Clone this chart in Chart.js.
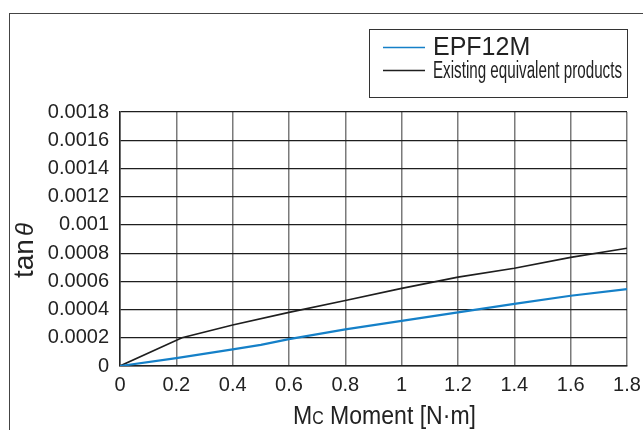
<!DOCTYPE html>
<html>
<head>
<meta charset="utf-8">
<script src="https://cdn.jsdelivr.net/npm/chart.js@4.4.1/dist/chart.umd.min.js"></script>
<style>
  html, body { margin: 0; padding: 0; background: #fff; }
  #wrap { position: relative; width: 643px; height: 430px; overflow: hidden; }
  #frame { position: absolute; left: 9px; top: 13px; width: 700px; height: 500px;
           border-top: 1px solid #444; border-left: 1px solid #444; }
  canvas { position: absolute; left: 0; top: 0; }
</style>
</head>
<body>
<div id="wrap">
  <div id="frame"></div>
  <canvas id="chart" width="643" height="430"></canvas>
</div>
<script>
// values
const epfX = [0, 0.2, 0.4, 0.5, 0.6, 0.8, 1.0, 1.2, 1.4, 1.6, 1.8];
const epfY = [0, 0.000056, 0.000118, 0.00015, 0.00019, 0.00026, 0.00032, 0.00038, 0.00044, 0.000498, 0.000545];

const oldX = [0, 0.22, 0.4, 0.6, 0.8, 1.0, 1.2, 1.4, 1.6, 1.8];
const oldY = [0, 0.0002, 0.00029, 0.00038, 0.000464, 0.00055, 0.00063, 0.000693, 0.00077, 0.000835];

const xTickLabels = ['0', '0.2', '0.4', '0.6', '0.8', '1', '1.2', '1.4', '1.6', '1.8'];
const yTickLabels = ['0', '0.0002', '0.0004', '0.0006', '0.0008', '0.001', '0.0012', '0.0014', '0.0016', '0.0018'];

const FONT = '"Liberation Sans", Arial, sans-serif';
const toPoints = (xs, ys) => xs.map((x, i) => ({ x: x, y: ys[i] }));

// legend box drawn by hand so the second label can be narrowed like the original
const boxLegend = {
  id: 'boxLegend',
  afterDraw(chart) {
    const ctx = chart.ctx;
    ctx.save();
    ctx.strokeStyle = '#333';
    ctx.lineWidth = 1;
    ctx.strokeRect(369.5, 29.5, 258, 68);

    const rows = [
      { y: 47.5, font: '25px ' + FONT, width: null },
      { y: 70.5, font: '23px ' + FONT, width: 189 }
    ];
    chart.data.datasets.forEach((ds, i) => {
      const r = rows[i];
      ctx.strokeStyle = ds.borderColor;
      ctx.lineWidth = 1.6;
      ctx.beginPath();
      ctx.moveTo(383, r.y);
      ctx.lineTo(425, r.y);
      ctx.stroke();

      ctx.fillStyle = '#222';
      ctx.font = r.font;
      ctx.textBaseline = 'middle';
      const w = ctx.measureText(ds.label).width;
      const sx = r.width ? r.width / w : 1;
      ctx.save();
      ctx.translate(433, r.y + 1);
      ctx.scale(sx, 1);
      ctx.fillText(ds.label, 0, 0);
      ctx.restore();
    });
    ctx.restore();
  }
};

// axis titles: italic theta and a small-cap C need mixed fonts
const axisTitles = {
  id: 'axisTitles',
  afterDraw(chart) {
    const ctx = chart.ctx;
    ctx.save();
    ctx.fillStyle = '#222';
    ctx.textBaseline = 'alphabetic';

    // y title, rotated
    ctx.save();
    ctx.translate(33, 278);
    ctx.rotate(-Math.PI / 2);
    ctx.font = '28px ' + FONT;
    ctx.fillText('tan', 0, 0);
    const wt = ctx.measureText('tan').width;
    ctx.font = 'italic 24px ' + FONT;
    ctx.fillText('\u03b8', wt + 3, 0);
    ctx.restore();

    // x title
    const parts = [
      { t: 'M', f: '26px ' + FONT },
      { t: 'C', f: '18px ' + FONT },
      { t: ' Moment [N\u00b7m]', f: '26px ' + FONT }
    ];
    let total = 0;
    parts.forEach(p => { ctx.font = p.f; p.w = ctx.measureText(p.t).width; total += p.w; });
    const sx = 183 / total;
    ctx.save();
    ctx.translate(293, 424);
    ctx.scale(sx, 1);
    let x = 0;
    parts.forEach(p => { ctx.font = p.f; ctx.fillText(p.t, x, 0); x += p.w; });
    ctx.restore();

    ctx.restore();
  }
};

new Chart(document.getElementById('chart'), {
  type: 'line',
  data: {
    datasets: [
      {
        label: 'EPF12M',
        data: toPoints(epfX, epfY),
        borderColor: '#1580c8',
        borderWidth: 2.2,
        pointRadius: 0,
        tension: 0
      },
      {
        label: 'Existing equivalent products',
        data: toPoints(oldX, oldY),
        borderColor: '#1e1e1e',
        borderWidth: 1.6,
        pointRadius: 0,
        tension: 0
      }
    ]
  },
  options: {
    responsive: false,
    animation: false,
    layout: { padding: { left: 0, right: 16, top: 112, bottom: 0 } },
    plugins: {
      legend: { display: false },
      tooltip: { enabled: false }
    },
    scales: {
      x: {
        type: 'linear',
        min: 0,
        max: 1.8,
        afterBuildTicks: (s) => { s.ticks = xTickLabels.map((t, i) => ({ value: i * 0.2 })); },
        afterFit: (s) => { s.height = 64; s.paddingRight = 0; s.paddingLeft = 0; },
        ticks: {
          color: '#222',
          font: { family: FONT, size: 20 },
          padding: 7,
          maxRotation: 0,
          autoSkip: false,
          callback: (v, i) => xTickLabels[i]
        },
        grid: { color: '#7a7a7a', lineWidth: 1.5, drawTicks: false },
        border: { color: '#222', width: 1.5 }
      },
      y: {
        type: 'linear',
        min: 0,
        max: 0.0018,
        afterBuildTicks: (s) => { s.ticks = yTickLabels.map((t, i) => ({ value: i * 0.0002 })); },
        afterFit: (s) => { s.width = 120; s.paddingTop = 0; s.paddingBottom = 0; },
        ticks: {
          color: '#222',
          font: { family: FONT, size: 20 },
          padding: 11,
          autoSkip: false,
          callback: (v, i) => yTickLabels[i]
        },
        grid: { color: '#1e1e1e', lineWidth: 1.2, drawTicks: false },
        border: { color: '#222', width: 1.5 }
      }
    }
  },
  plugins: [boxLegend, axisTitles]
});
</script>
</body>
</html>
